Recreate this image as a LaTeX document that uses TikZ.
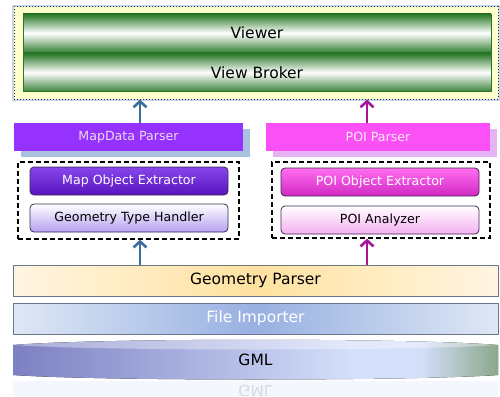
\documentclass[tikz,border=0pt]{standalone}
\usepackage{fontspec}
\setmainfont{DejaVu Sans}
\usetikzlibrary{arrows.meta}

\definecolor{viewgreen}{RGB}{38,118,38}
\definecolor{frameyellow}{RGB}{255,255,204}
\definecolor{glowblue}{RGB}{196,214,240}
\definecolor{arrblue}{RGB}{60,108,158}
\definecolor{arrmag}{RGB}{165,22,155}
\definecolor{mapviolet}{RGB}{150,50,255}
\definecolor{mapshadow}{RGB}{170,192,225}
\definecolor{poipink}{RGB}{250,80,245}
\definecolor{poishadow}{RGB}{228,180,245}
\definecolor{moxtop}{RGB}{135,70,235}
\definecolor{moxbot}{RGB}{88,20,190}
\definecolor{gthbot}{RGB}{180,160,240}
\definecolor{poxtop}{RGB}{255,110,240}
\definecolor{poxbot}{RGB}{210,40,195}
\definecolor{panbot}{RGB}{245,175,240}
\definecolor{boxline}{RGB}{60,40,80}
\definecolor{geoedge}{RGB}{255,245,225}
\definecolor{geomid}{RGB}{255,226,160}
\definecolor{impedge}{RGB}{222,231,245}
\definecolor{impmid}{RGB}{152,176,226}
\definecolor{layerline}{RGB}{105,118,140}
\definecolor{gmlA}{RGB}{124,128,194}
\definecolor{gmlB}{RGB}{212,223,250}
\definecolor{gmlC}{RGB}{140,168,140}

% the path covers 25bp..75bp of the shading
\pgfdeclarehorizontalshading{gmlshade}{100bp}{color(0bp)=(gmlA); color(25bp)=(gmlA); color(60bp)=(gmlB); color(67bp)=(gmlB); color(75bp)=(gmlC); color(100bp)=(gmlC)}

\begin{document}
\begin{tikzpicture}[x=1pt,y=-1pt,
    bigfont/.style={font=\fontsize{15.5}{18}\selectfont},
    midfont/.style={font=\fontsize{12.6}{15}\selectfont},
    bar/.style={bigfont,minimum width=468pt,minimum height=38pt,inner sep=0pt,
        draw=viewgreen,line width=.8pt,top color=viewgreen,bottom color=viewgreen!90!white,middle color=white},
    parser/.style={midfont,minimum height=28pt,inner sep=0pt},
    group/.style={draw,line width=1.3pt,dash pattern=on 5pt off 3pt,inner sep=0pt},
    part/.style={midfont,minimum width=198pt,minimum height=28pt,inner sep=0pt,
        rounded corners=4pt,draw=boxline,line width=.8pt},
    layer/.style={bigfont,minimum width=485pt,minimum height=31pt,inner sep=0pt,
        draw=layerline,line width=.6pt},
    bluearr/.style={draw=arrblue,line width=2.6pt,-{Straight Barb[length=6pt,width=13pt]}},
    magarr/.style={draw=arrmag,line width=2.6pt,-{Straight Barb[length=6pt,width=13pt]}}]

    \useasboundingbox (0,0) rectangle (500,396);

    % presentation
    \node[minimum width=484pt,minimum height=92pt,inner sep=0pt,fill=frameyellow,
          draw=black!80,dotted,line width=1pt,
          preaction={draw=glowblue,line width=4pt,solid}] (frame) at (256,53) {};
    \node[bar] (viewer) at (257,33) {Viewer};
    \node[bar] (broker) at (257,72.5) {View Broker};

    % parsers
    \node[parser,minimum width=229pt,fill=mapviolet,text=violet!15!white,
          preaction={fill=mapshadow,transform canvas={xshift=7pt,yshift=-6pt}}] (mapdata) at (128.5,137) {MapData Parser};
    \node[parser,minimum width=224pt,fill=poipink,text=magenta!8!white,
          preaction={fill=poishadow,transform canvas={xshift=7pt,yshift=-6pt}}] (poi) at (378,137) {POI Parser};

    \node[group,minimum width=221pt,minimum height=77pt] (mapgrp) at (128.5,200.5) {};
    \node[part,top color=moxtop,bottom color=moxbot,text=white] (mox) at (129,181) {Map Object Extractor};
    \node[part,top color=white,bottom color=gthbot] (gth) at (129,218) {Geometry Type Handler};

    \node[group,minimum width=218pt,minimum height=76pt] (poigrp) at (381,200) {};
    \node[part,top color=poxtop,bottom color=poxbot,text=white] (pox) at (380,182) {POI Object Extractor};
    \node[part,top color=white,bottom color=panbot] (pan) at (380,220) {POI Analyzer};

    % lower layers
    \node[layer,left color=geoedge,right color=geoedge,middle color=geomid] (geo) at (255.5,280.5) {Geometry Parser};
    \node[layer,left color=impedge,right color=impedge,middle color=impmid,text=white] (imp) at (255.5,318.5) {File Importer};

    \fill[shading=gmlshade] (13,345) .. controls (100,338) and (411,338) .. (498,345)
        -- (498,375) .. controls (411,381) and (100,381) .. (13,375) -- cycle;
    \fill[white,opacity=.35] (13,345) .. controls (100,338) and (411,338) .. (498,345)
        .. controls (411,351) and (100,351) .. (13,345) -- cycle;
    \node[bigfont] (gml) at (255.5,360) {GML};
    \fill[gmlB,opacity=.25] (13,381) rectangle (498,396);
    \node[bigfont,yscale=-1,opacity=.12] (gmlref) at (255.5,391) {GML};

    % arrows
    \coordinate (ax1) at (140,0);
    \coordinate (ax2) at (367,0);
    \draw[bluearr] (mapdata.north -| ax1) -- (frame.south -| ax1);
    \draw[magarr] (poi.north -| ax2) -- (frame.south -| ax2);
    \draw[bluearr] (geo.north -| ax1) -- (mapgrp.south -| ax1);
    \draw[magarr] (geo.north -| ax2) -- (poigrp.south -| ax2);
\end{tikzpicture}
\end{document}
